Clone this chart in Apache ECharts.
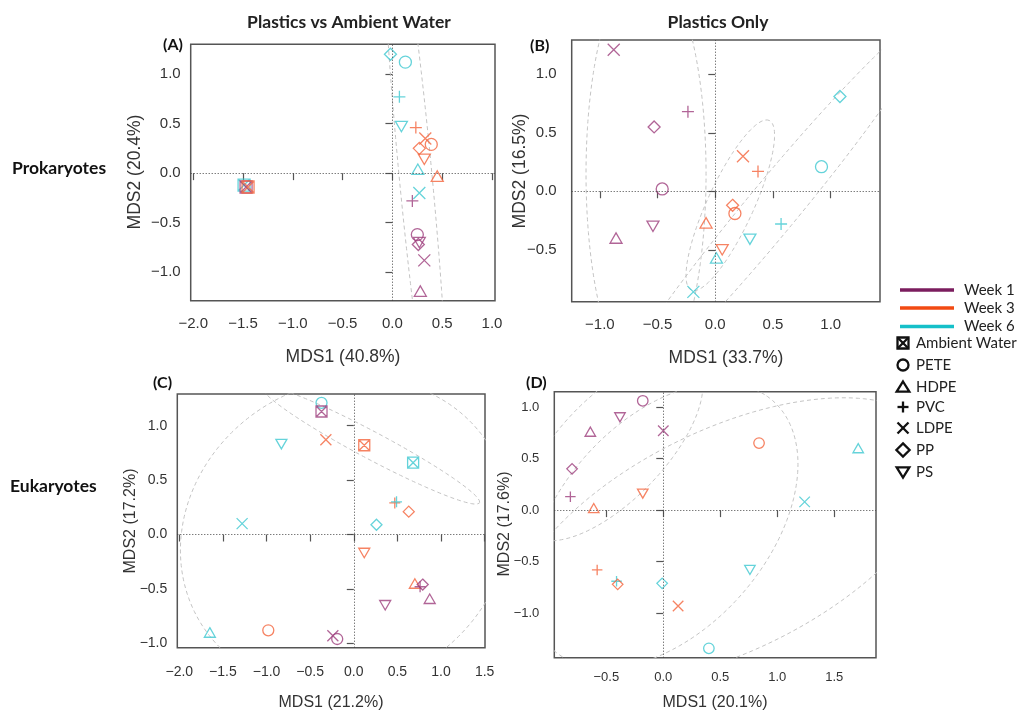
<!DOCTYPE html>
<html><head><meta charset="utf-8">
<script src="https://cdn.jsdelivr.net/npm/echarts@6/dist/echarts.min.js"></script>
<style>html,body{margin:0;padding:0;background:#fff}#c{width:1027px;height:713px}</style>
</head><body><div id="c"></div>
<script>
// ---------- DATA ----------
const weeks = ['Week 1', 'Week 3', 'Week 6'];
const plastics = ['Ambient Water', 'PETE', 'HDPE', 'PVC', 'LDPE', 'PP', 'PS'];
const panelTitles = ['Plastics vs Ambient Water', 'Plastics Only'];
const rowLabels = ['Prokaryotes', 'Eukaryotes'];
const panelLetters = ['(A)', '(B)', '(C)', '(D)'];
const xTitles = ['MDS1 (40.8%)', 'MDS1 (33.7%)', 'MDS1 (21.2%)', 'MDS1 (20.1%)'];
const yTitles = ['MDS2 (20.4%)', 'MDS2 (16.5%)', 'MDS2 (17.2%)', 'MDS2 (17.6%)'];

// ticks
const xTicksA = [-2.0, -1.5, -1.0, -0.5, 0.0, 0.5, 1.0];
const yTicksA = [-1.0, -0.5, 0.0, 0.5, 1.0];
const xTicksB = [-1.0, -0.5, 0.0, 0.5, 1.0];
const yTicksB = [-0.5, 0.0, 0.5, 1.0];
const xTicksC = [-2.0, -1.5, -1.0, -0.5, 0.0, 0.5, 1.0, 1.5];
const yTicksC = [-1.0, -0.5, 0.0, 0.5, 1.0];
const xTicksD = [-0.5, 0.0, 0.5, 1.0, 1.5];
const yTicksD = [-1.0, -0.5, 0.0, 0.5, 1.0];

// points: [week, type, MDS1, MDS2]
const pointsA = [
  ['Week 6', 'PP', -0.02, 1.20], ['Week 6', 'PETE', 0.13, 1.12], ['Week 6', 'PVC', 0.07, 0.77],
  ['Week 6', 'PS', 0.09, 0.47], ['Week 3', 'PVC', 0.235, 0.46], ['Week 3', 'LDPE', 0.33, 0.35],
  ['Week 3', 'PETE', 0.39, 0.29], ['Week 3', 'PP', 0.27, 0.25], ['Week 3', 'PS', 0.32, 0.14],
  ['Week 6', 'HDPE', 0.255, 0.04], ['Week 3', 'HDPE', 0.45, -0.03], ['Week 6', 'LDPE', 0.27, -0.20],
  ['Week 1', 'PVC', 0.20, -0.28], ['Week 1', 'PETE', 0.25, -0.62], ['Week 1', 'PP', 0.26, -0.72],
  ['Week 1', 'PS', 0.27, -0.70], ['Week 1', 'LDPE', 0.32, -0.88], ['Week 1', 'HDPE', 0.28, -1.19],
  ['Week 6', 'Ambient Water', -1.49, -0.12], ['Week 1', 'Ambient Water', -1.47, -0.14],
  ['Week 3', 'Ambient Water', -1.45, -0.14]
];
const pointsB = [
  ['Week 1', 'LDPE', -0.88, 1.21], ['Week 1', 'PVC', -0.237, 0.68], ['Week 1', 'PP', -0.53, 0.55],
  ['Week 1', 'PETE', -0.46, 0.02], ['Week 1', 'PS', -0.54, -0.30], ['Week 1', 'HDPE', -0.86, -0.40],
  ['Week 3', 'LDPE', 0.24, 0.30], ['Week 3', 'PVC', 0.37, 0.17], ['Week 3', 'PP', 0.15, -0.12],
  ['Week 3', 'PETE', 0.17, -0.19], ['Week 3', 'HDPE', -0.08, -0.27], ['Week 3', 'PS', 0.06, -0.50],
  ['Week 6', 'PP', 1.08, 0.81], ['Week 6', 'PETE', 0.92, 0.21], ['Week 6', 'PVC', 0.57, -0.28],
  ['Week 6', 'PS', 0.30, -0.41], ['Week 6', 'HDPE', 0.01, -0.57], ['Week 6', 'LDPE', -0.19, -0.86]
];
const pointsC = [
  ['Week 6', 'PETE', -0.37, 1.21], ['Week 1', 'Ambient Water', -0.37, 1.13], ['Week 6', 'PS', -0.83, 0.83],
  ['Week 3', 'LDPE', -0.32, 0.87], ['Week 3', 'Ambient Water', 0.12, 0.82], ['Week 6', 'Ambient Water', 0.68, 0.66],
  ['Week 3', 'PVC', 0.47, 0.29], ['Week 6', 'PVC', 0.49, 0.30], ['Week 3', 'PP', 0.63, 0.21],
  ['Week 6', 'PP', 0.26, 0.09], ['Week 6', 'LDPE', -1.28, 0.10], ['Week 3', 'PS', 0.12, -0.17],
  ['Week 3', 'HDPE', 0.70, -0.45], ['Week 1', 'PP', 0.79, -0.46], ['Week 1', 'PVC', 0.76, -0.48],
  ['Week 1', 'HDPE', 0.87, -0.59], ['Week 1', 'PS', 0.36, -0.65], ['Week 6', 'HDPE', -1.65, -0.90],
  ['Week 3', 'PETE', -0.98, -0.88], ['Week 1', 'LDPE', -0.24, -0.93], ['Week 1', 'PETE', -0.19, -0.96]
];
const pointsD = [
  ['Week 1', 'PETE', -0.18, 1.06], ['Week 1', 'PS', -0.38, 0.90], ['Week 1', 'HDPE', -0.64, 0.76],
  ['Week 1', 'LDPE', 0.0, 0.77], ['Week 1', 'PP', -0.80, 0.40], ['Week 1', 'PVC', -0.815, 0.13],
  ['Week 3', 'PS', -0.18, 0.16], ['Week 3', 'HDPE', -0.61, 0.02], ['Week 3', 'PETE', 0.84, 0.65],
  ['Week 6', 'HDPE', 1.71, 0.60], ['Week 6', 'LDPE', 1.24, 0.08], ['Week 3', 'PVC', -0.58, -0.58],
  ['Week 6', 'PVC', -0.41, -0.69], ['Week 3', 'PP', -0.40, -0.72], ['Week 6', 'PP', -0.01, -0.71],
  ['Week 6', 'PS', 0.76, -0.58], ['Week 3', 'LDPE', 0.13, -0.93], ['Week 6', 'PETE', 0.40, -1.34]
];

// ellipses: [centerX, centerY, semiMajor, semiMinor, angleDeg]
const ellipsesA = [[0.23, 0.0, 3.0, 0.165, 95.4]];
const ellipsesB = [[-0.6, 0.15, 1.8, 0.52, 90], [0.13, -0.12, 0.8, 0.2, 65], [0.49, -0.15, 2.2, 0.22, 50]];
const ellipsesC = [[-0.1, 0.0, 1.9, 1.42, 10], [0.2, 0.82, 1.35, 0.13, -23]];
const ellipsesD = [[-0.45, 0.6, 1.1, 0.48, 50], [0.0, -0.15, 1.55, 0.95, 55], [0.55, -0.3, 2.1, 1.05, 30]];

// ---------- STYLE ----------
const weekColor = { 'Week 1': '#9d3f7d', 'Week 3': '#f4643c', 'Week 6': '#3ec8d1' };
const legendLineColor = ['#7b1d5e', '#f24a12', '#15c0c9'];
const shapePath = {
  'Ambient Water': 'M0,0L10,0L10,10L0,10ZM0,0L10,10M10,0L0,10',
  'PETE': 'M10,5A5,5,0,1,1,0,5A5,5,0,1,1,10,5Z',
  'HDPE': 'M5,0L10,8.66L0,8.66Z',
  'PVC': 'M5,0L5,10M0,5L10,5',
  'LDPE': 'M0,0L10,10M10,0L0,10',
  'PP': 'M5,0L10,5L5,10L0,5Z',
  'PS': 'M0,0L10,0L5,8.66Z'
};
const panels = [
  { pts: pointsA, ell: ellipsesA, grid: { left: 190.7, top: 44.3, width: 304.3, height: 256.4 }, xr: [-2.026, 1.03], yr: [-1.287, 1.30], xt: xTicksA, yt: yTicksA, fs: 15, xm: 16, ym: 10, ss: 12 },
  { pts: pointsB, ell: ellipsesB, grid: { left: 571.7, top: 40, width: 308.3, height: 261.7 }, xr: [-1.244, 1.427], yr: [-0.944, 1.293], xt: xTicksB, yt: yTicksB, fs: 15, xm: 16, ym: 15, ss: 12 },
  { pts: pointsC, ell: ellipsesC, grid: { left: 177.3, top: 394, width: 307.7, height: 253.7 }, xr: [-2.023, 1.504], yr: [-1.04, 1.291], xt: xTicksC, yt: yTicksC, fs: 14, xm: 17, ym: 10, ss: 11 },
  { pts: pointsD, ell: ellipsesD, grid: { left: 554.3, top: 391.7, width: 321.7, height: 266 }, xr: [-0.956, 1.866], yr: [-1.431, 1.148], xt: xTicksD, yt: yTicksD, fs: 13, xm: 13, ym: 15, ss: 10.5 }
];

function ellipsePts(e) {
  const [cx, cy, a, b, deg] = e; const th = deg * Math.PI / 180; const out = [];
  for (let k = 0; k <= 200; k++) {
    const t = k / 200 * 2 * Math.PI;
    out.push([cx + a * Math.cos(t) * Math.cos(th) - b * Math.sin(t) * Math.sin(th),
              cy + a * Math.cos(t) * Math.sin(th) + b * Math.sin(t) * Math.cos(th)]);
  }
  return out;
}
const fmt = v => (v < 0 ? '\u2212' : '') + Math.abs(v).toFixed(1);

const grids = [], xAxes = [], yAxes = [], series = [];
panels.forEach((p, i) => {
  grids.push(Object.assign({ show: true, borderColor: '#555', borderWidth: 1.5, backgroundColor: 'transparent' }, p.grid));
  const common = (ticks, margin) => ({
    gridIndex: i, type: 'value', axisLine: { show: false }, splitLine: { show: false },
    axisTick: { show: true, inside: false, length: 7, lineStyle: { color: '#555', width: 1.2 }, customValues: ticks },
    axisLabel: { customValues: ticks, formatter: fmt, margin: margin, fontSize: p.fs, color: '#333', fontFamily: 'Liberation Sans, Arial, sans-serif' }
  });
  xAxes.push(Object.assign(common(p.xt, p.xm), { min: p.xr[0], max: p.xr[1] }));
  yAxes.push(Object.assign(common(p.yt, p.ym), { min: p.yr[0], max: p.yr[1] }));
  p.ell.forEach(e => series.push({
    type: 'line', xAxisIndex: i, yAxisIndex: i, data: ellipsePts(e), showSymbol: false, clip: true, silent: true,
    lineStyle: { color: '#c4c4c4', width: 1, type: [4, 3] }, z: 1
  }));
  series.push({
    type: 'scatter', xAxisIndex: i, yAxisIndex: i, z: 3, symbolKeepAspect: true, symbolSize: p.ss,
    data: p.pts.map(d => ({ value: [d[2], d[3]], symbol: 'path://' + shapePath[d[1]],
      itemStyle: { color: 'rgba(0,0,0,0)', borderColor: weekColor[d[0]], borderWidth: 1.3 } })),
    markLine: { silent: true, symbol: ['none', 'none'], label: { show: false }, animation: false,
      lineStyle: { color: '#444', type: [1, 2], width: 1 }, data: [{ xAxis: 0 }, { yAxis: 0 }] }
  });
});

// ---------- GRAPHIC TEXT / LEGEND ----------
const g = [];
const txt = (text, x, y, o) => g.push({ type: 'text', x, y, rotation: o.rot || 0,
  style: { text, fill: o.fill || '#222', font: o.font, textAlign: o.align || 'center', textVerticalAlign: 'middle' } });
txt(panelTitles[0], 349, 22, { font: 'bold 17.5px Lato, sans-serif' });
txt(panelTitles[1], 718, 22, { font: 'bold 17.5px Lato, sans-serif' });
txt(rowLabels[0], 12, 168, { font: 'bold 17.5px Lato, sans-serif', align: 'left', fill: '#111' });
txt(rowLabels[1], 10, 486, { font: 'bold 17.5px Lato, sans-serif', align: 'left', fill: '#111' });
const letterPos = [[163, 45], [530, 46], [153, 383], [526, 383]];
panelLetters.forEach((t, i) => txt(t, letterPos[i][0], letterPos[i][1], { font: 'bold 16px Lato, sans-serif', align: 'left', fill: '#111' }));
const xTitlePos = [[343, 357], [726, 358], [331, 703], [715, 703]];
const yTitlePos = [[135, 172], [520, 171], [131, 521], [505, 524]];
const titleSize = [17.5, 17.5, 16, 16];
xTitles.forEach((t, i) => txt(t, xTitlePos[i][0], xTitlePos[i][1], { font: titleSize[i] + 'px Liberation Sans, Arial, sans-serif', fill: '#333' }));
yTitles.forEach((t, i) => txt(t, yTitlePos[i][0], yTitlePos[i][1], { font: titleSize[i] + 'px Liberation Sans, Arial, sans-serif', fill: '#333', rot: Math.PI / 2 }));

const legendWeekY = [290, 308, 326.5];
weeks.forEach((w, i) => {
  g.push({ type: 'line', shape: { x1: 900, y1: legendWeekY[i], x2: 954, y2: legendWeekY[i] }, style: { stroke: legendLineColor[i], lineWidth: 3.5 } });
  txt(w, 964, legendWeekY[i], { font: '15px Lato, sans-serif', align: 'left' });
});
// legend glyphs built from primitives, centred at (cx, cy) with half-size h
const lgStyle = { fill: 'none', stroke: '#111', lineWidth: 2.3 };
function glyph(kind, cx, cy, h) {
  const L = (x1, y1, x2, y2) => g.push({ type: 'line', shape: { x1, y1, x2, y2 }, style: lgStyle });
  const P = pts => g.push({ type: 'polygon', shape: { points: pts }, style: lgStyle });
  if (kind === 'Ambient Water') { g.push({ type: 'rect', shape: { x: cx - h, y: cy - h, width: 2 * h, height: 2 * h }, style: lgStyle }); L(cx - h, cy - h, cx + h, cy + h); L(cx + h, cy - h, cx - h, cy + h); }
  else if (kind === 'PETE') g.push({ type: 'circle', shape: { cx, cy, r: h }, style: lgStyle });
  else if (kind === 'HDPE') P([[cx, cy - h], [cx + h * 1.15, cy + h * 0.85], [cx - h * 1.15, cy + h * 0.85]]);
  else if (kind === 'PVC') { L(cx, cy - h, cx, cy + h); L(cx - h, cy, cx + h, cy); }
  else if (kind === 'LDPE') { L(cx - h, cy - h, cx + h, cy + h); L(cx + h, cy - h, cx - h, cy + h); }
  else if (kind === 'PP') P([[cx, cy - h * 1.2], [cx + h * 1.2, cy], [cx, cy + h * 1.2], [cx - h * 1.2, cy]]);
  else if (kind === 'PS') P([[cx - h * 1.15, cy - h * 0.85], [cx + h * 1.15, cy - h * 0.85], [cx, cy + h]]);
}
const legendShapeY = [343, 365, 387, 407, 428, 450, 472];
plastics.forEach((s, i) => {
  glyph(s, 903, legendShapeY[i], 5.5);
  txt(s, 916, legendShapeY[i], { font: '15px Lato, sans-serif', align: 'left' });
});

const chart = echarts.init(document.getElementById('c'), null, { renderer: 'canvas' });
chart.setOption({ animation: false, grid: grids, xAxis: xAxes, yAxis: yAxes, series, graphic: g });
</script></body></html>
